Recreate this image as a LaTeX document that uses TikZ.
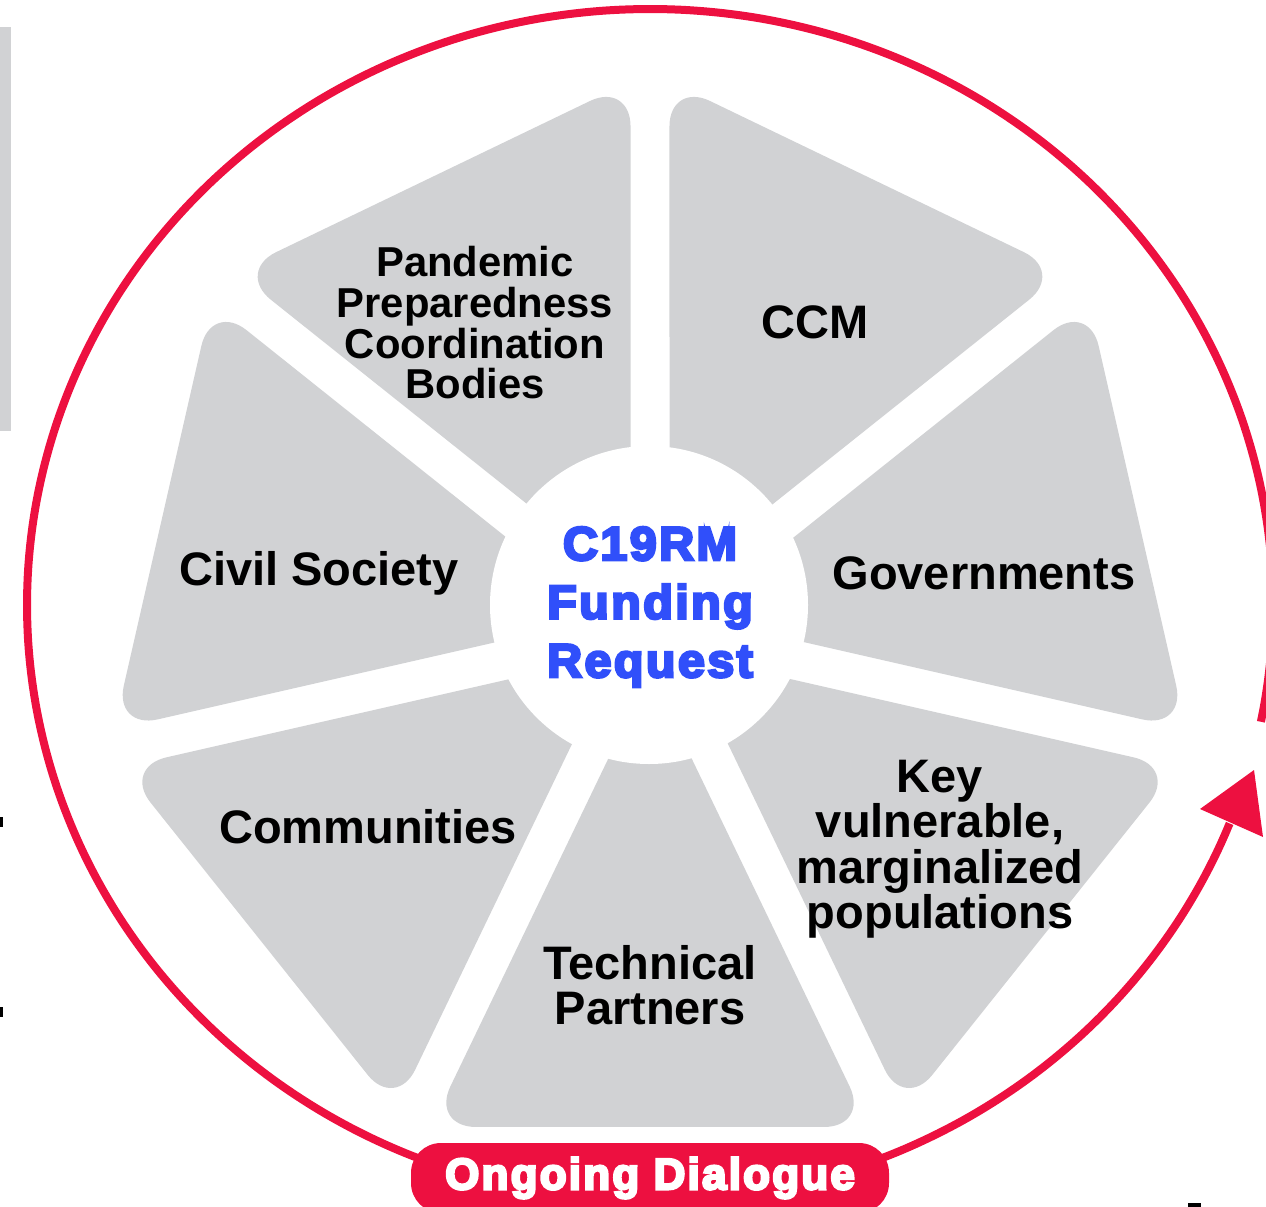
\documentclass[tikz,border=0pt]{standalone}
\usepackage{fontspec}
\usepackage{graphicx}
\setmainfont{Liberation Sans}
\newfontfamily\heavyfont{Liberation Sans}[UprightFont={* Bold}, FakeBold=5.5, LetterSpace=5]
\usetikzlibrary{calc}
\definecolor{wedgegray}{RGB}{209,210,212}
\definecolor{ringred}{RGB}{237,16,64}
\definecolor{hubblue}{RGB}{48,79,250}
\tikzset{
  wedge/.style={fill=wedgegray, rounded corners=45pt},
  ring/.style={draw=ringred, line width=8pt},
  lbl/.style={align=center, text=black, inner sep=0pt, font=\bfseries\fontsize{47}{45.5}\selectfont},
  smalllbl/.style={align=center, text=black, inner sep=0pt, font=\bfseries\fontsize{41.8}{40.7}\selectfont},
  hublbl/.style={align=center, text=hubblue, inner sep=0pt, font=\heavyfont\fontsize{47.5}{58.5}\selectfont},
  pill/.style={fill=ringred, rounded corners=30pt, minimum width=478pt, minimum height=70pt, inner sep=0pt,
    text=white, font=\heavyfont\fontsize{44}{44}\selectfont}
}
\begin{document}
\begin{tikzpicture}[x=1pt,y=-1pt]
\useasboundingbox (0,0) rectangle (1266,1207);
\clip (0,0) rectangle (1266,1207);
\coordinate (H) at (650,627);
\coordinate (O) at (649,605);
% edge remnants
\fill[wedgegray] (0,27) rectangle (11,431);
\fill[black] (0,817) rectangle (2.5,827);
\fill[black] (0,1007) rectangle (2.5,1017);
\fill[black] (1188,1203) rectangle (1201,1207);
% ring with arrow
\draw[ring] plot[domain=-11.3:338.5, samples=300, smooth] ({650+623*cos(\x)},{605-596*sin(\x)});
\coordinate (tipA) at (1254,770);
\coordinate (tipB) at (1200,809);
\coordinate (tipC) at (1263,837);
\fill[ringred] (tipA) -- (tipB) -- (tipC) -- cycle;
% wedges
\foreach \t in {115.714, 64.286, 12.857, -38.571, -90, -141.429, 167.143} {
  \fill[wedge] ($(H)+({-\t}:45)$) -- ($(H)+({-\t+23.67}:545.9)$) -- ($(H)+({-\t-23.67}:545.9)$) -- cycle;
}
% hub
\fill[white] (O) circle[radius=159];
\node[hublbl] (hub) at (650,607) {\scalebox{1.02}[1]{C19RM}\\\scalebox{1.02}[1]{Funding}\\\scalebox{1.02}[1]{Request}};
% labels
\node[smalllbl] (pan) at (475,323) {Pandemic\\Preparedness\\Coordination\\Bodies};
\node[lbl] (ccm) at (815,322) {CCM};
\node[lbl] (gov) at (984,573) {Governments};
\node[lbl] (kvp) at (940,849) {Key\\vulnerable,\\marginalized\\populations};
\node[lbl] (tec) at (650,985) {Technical\\Partners};
\node[lbl] (com) at (368,827) {Communities};
\node[lbl] (civ) at (319,573) {Civil Society};
% ongoing dialogue pill
\node[pill] (dlg) at (650,1178) {Ongoing Dialogue};
\end{tikzpicture}
\end{document}
